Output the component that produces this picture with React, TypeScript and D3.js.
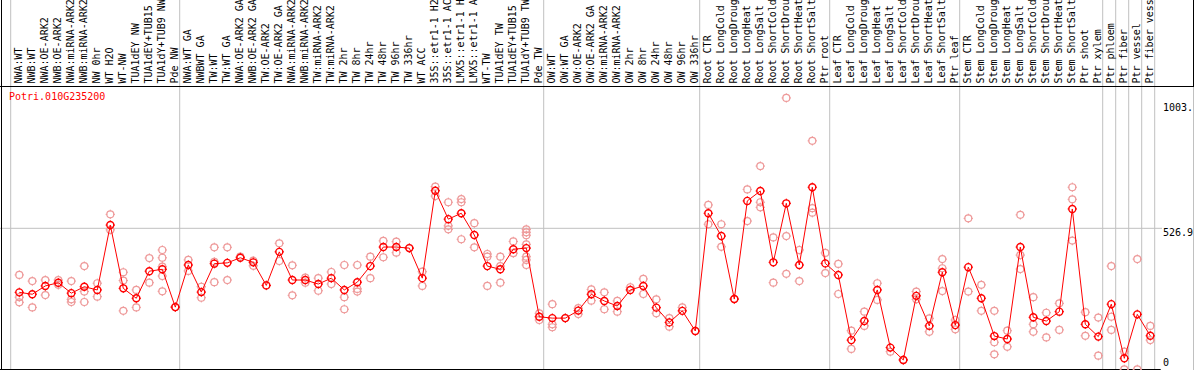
import React from "react";
import * as d3 from "d3";

const title = "Potri.010G235200";

const labels = [
  "NWA:WT", "NWB:WT", "NWA:OE-ARK2", "NWB:OE-ARK2", "NWA:miRNA-ARK2", "NWB:miRNA-ARK2",
  "NW 0hr", "WT H2O", "WT-NW", "TUA1dEY NW", "TUA1dEY+TUB15 NW", "TUA1dY+TUB9 NW", "Pde NW",
  "NWA:WT GA", "NWBWT GA", "TW:WT", "TW:WT GA", "NWA:OE-ARK2 GA", "NWB:OE-ARK2 GA",
  "TW:OE-ARK2", "TW:OE-ARK2 GA", "NWA:miRNA-ARK2", "NWB:miRNA-ARK2", "TW:miRNA-ARK2",
  "TW:miRNA-ARK2", "TW 2hr", "TW 8hr", "TW 24hr", "TW 48hr", "TW 96hr", "TW 336hr", "WT ACC",
  "35S::etr1-1 H2O", "35S::etr1-1 ACC", "LMX5::etr1-1 H2O", "LMX5::etr1-1 ACC", "WT-TW",
  "TUA1dEY TW", "TUA1dEY+TUB15 TW", "TUA1dY+TUB9 TW", "Pde TW",
  "OW:WT", "OW:WT GA", "OW:OE-ARK2", "OW:OE-ARK2 GA", "OW:miRNA-ARK2", "OW:miRNA-ARK2",
  "OW 2hr", "OW 8hr", "OW 24hr", "OW 48hr", "OW 96hr", "OW 336hr",
  "Root CTR", "Root LongCold", "Root LongDrought", "Root LongHeat", "Root LongSalt",
  "Root ShortCold", "Root ShortDrought", "Root ShortHeat", "Root ShortSalt", "Ptr root",
  "Leaf CTR", "Leaf LongCold", "Leaf LongDrought", "Leaf LongHeat", "Leaf LongSalt",
  "Leaf ShortCold", "Leaf ShortDrought", "Leaf ShortHeat", "Leaf ShortSalt", "Ptr leaf",
  "Stem CTR", "Stem LongCold", "Stem LongDrought", "Stem LongHeat", "Stem LongSalt",
  "Stem ShortCold", "Stem ShortDrought", "Stem ShortHeat", "Stem ShortSalt", "Ptr shoot",
  "Ptr xylem", "Ptr phloem", "Ptr fiber", "Ptr vessel", "Ptr fiber vessel",
];

// column index where each group starts (plus the end)
const groupBreaks = [0, 13, 41, 53, 63, 73, 84, 85, 86, 87, 88];

const means = [
  288, 281, 312, 324, 285, 309, 297, 539, 303, 266, 367, 374, 233,
  390, 289, 395, 398, 417, 400, 314, 439, 334, 334, 319, 341, 297, 326, 386, 457, 457, 453, 341,
  667, 561, 583, 502, 386, 374, 449, 453, 197,
  192, 192, 220, 281, 256, 237, 297, 312, 231, 176, 219, 144,
  583, 498, 263, 629, 666, 400, 620, 390, 680, 396,
  353, 110, 181, 297, 82, 36, 275, 163, 363, 166,
  382, 266, 125, 114, 457, 195, 181, 216, 599, 169, 123,
  244, 42, 206, 126,
];

const reps = [
  [353, 270, 251], [330, 232], [334, 278], [334, 316], [330, 262, 252], [386, 291, 252],
  [322, 272], [579, 521], [363, 332, 219], [297, 232], [416, 324], [446, 417, 384, 349, 292],
  [233, 233],
  [409, 368], [309, 268], [456, 402, 326], [456, 334], [421], [406, 387], [314], [471, 405],
  [389, 277], [343, 324], [341, 294], [364, 319], [390, 270, 225], [390, 301, 291], [421, 341],
  [480, 419], [477, 436], [453], [365, 312], [682, 647], [624, 536, 523], [636, 624, 486],
  [546, 456], [431, 421, 312], [421, 386, 324], [478, 434],
  [523, 512, 501, 467, 421, 409, 390], [210, 185],
  [244, 169, 158], [192], [229, 207], [299, 257], [288, 225], [256, 216], [307], [338, 282],
  [262, 210], [192, 160], [232], [144],
  [614, 542], [542, 458], [263], [672, 554], [759, 624, 605], [493, 324], [1013, 498, 357],
  [446, 330], [853, 602, 585], [435, 360],
  [394, 282], [145, 77], [216, 163], [322, 260], [67], [36], [291, 262], [191, 141],
  [412, 378, 293], [185, 150],
  [564, 291], [316, 219], [219, 102, 57], [145, 85], [577, 427, 375], [270, 169, 141],
  [212, 120], [247, 148], [680, 635, 481], [214, 126], [194, 52],
  [386, 197, 148], [67, 1], [412, 1], [163, 110],
];

const yTicks = [
  { v: 0, text: "0", dy: -3.5 },
  { v: 526.9, text: "526.9", dy: 8 },
  { v: 1003, text: "1003.", dy: 10 },
];

const W = 1194;
const H = 370;
const headerH = 86;
const plotTop = 87;
const plotBottom = 369.6;
const colW = 13;
const left0 = 10.7;
const font = "'DejaVu Sans Mono', monospace";
const repColor = "#ee9a9a";

const Marker = ({ cx, cy, color, sw }: { cx: number; cy: number; color: string; sw: number }) => {
  const r = 3.5;
  return (
    <g stroke={color} strokeWidth={sw} fill="none">
      <circle cx={cx} cy={cy} r={r} />
      <line x1={cx} x2={cx} y1={cy - r - 1.2} y2={cy - r + 0.5} strokeWidth={1} />
      <line x1={cx} x2={cx} y1={cy + r - 0.5} y2={cy + r + 1.2} strokeWidth={1} />
      <line x1={cx - r - 1.2} x2={cx - r + 0.5} y1={cy} y2={cy} strokeWidth={1} />
      <line x1={cx + r - 0.5} x2={cx + r + 1.2} y1={cy} y2={cy} strokeWidth={1} />
    </g>
  );
};

const App = () => {
  const x = d3
    .scaleBand<number>()
    .domain(d3.range(labels.length))
    .range([left0, left0 + labels.length * colW]);

  const y = d3.scaleLinear().domain([0, 1053.8]).range([plotBottom, plotTop]);

  const px = (i: number) => (x(i) as number) + 8.6;

  const line = d3
    .line<number>()
    .x((_, i) => px(i))
    .y((d) => y(d));

  const rightEdge = x.range()[1];

  return (
    <svg
      width={W}
      height={H}
      style={{ position: "absolute", left: 0, top: 0, background: "#fff" }}
    >
      <rect width={W} height={H} fill="#fff" />
      {/* grid */}
      <line x1={0} x2={1162} y1={y(526.9)} y2={y(526.9)} stroke="#c0c0c0" />
      {groupBreaks.map((g) => (
        <line
          key={g}
          x1={left0 + g * colW}
          x2={left0 + g * colW}
          y1={0}
          y2={H}
          stroke="#c0c0c0"
        />
      ))}
      <line x1={1193.5} x2={1193.5} y1={0} y2={H} stroke="#c0c0c0" />
      <line x1={1193.5} x2={1193.5} y1={0} y2={headerH} stroke="#000" />
      {/* borders */}
      <line x1={0} x2={W} y1={headerH + 0.5} y2={headerH + 0.5} stroke="#000" />
      <line x1={1.5} x2={1.5} y1={0} y2={H} stroke="#000" />
      <line x1={0} x2={rightEdge + 6} y1={369.5} y2={369.5} stroke="#000" />

      {/* column labels */}
      <g fontFamily={font} fontSize={10} fill="#000">
        {labels.map((l, i) => (
          <text
            key={i}
            transform={`translate(${(x(i) as number) + 11.6},${83.5}) rotate(-90)`}
          >
            {l}
          </text>
        ))}
      </g>

      {/* y tick labels */}
      <g fontFamily={font} fontSize={10} fill="#000">
        {yTicks.map((t) => (
          <text key={t.text} x={1163} y={y(t.v) + t.dy}>
            {t.text}
          </text>
        ))}
      </g>

      <text x={9} y={100} fontFamily={font} fontSize={10} fill="#ff0000">
        {title}
      </text>

      {/* replicates */}
      {reps.map((rs, i) =>
        rs.map((v, j) => (
          <Marker key={`${i}-${j}`} cx={px(i)} cy={y(v)} color={repColor} sw={1.2} />
        ))
      )}

      <path d={line(means) || ""} fill="none" stroke="#ff0000" strokeWidth={1} />

      {means.map((v, i) => (
        <Marker key={i} cx={px(i)} cy={y(v)} color="#ff0000" sw={1.4} />
      ))}
    </svg>
  );
};

export default App;
